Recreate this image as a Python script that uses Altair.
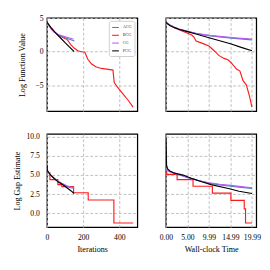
import altair as alt
import pandas as pd

methods = ["ACG", "BCG", "CG", "PCG"]
colors = ["#4a7fc1", "#ff1a1a", "#b45cf0", "#000000"]

# ---- Top-left: iterations vs log function value ----
tl_acg_x = [0, 10, 25, 40, 60, 80, 100, 120, 140, 152]
tl_acg_y = [4.4, 3.95, 3.35, 2.95, 2.55, 2.3, 2.1, 1.9, 1.72, 1.6]
tl_cg_x = [0, 10, 25, 40, 60, 80, 100, 120, 140, 148]
tl_cg_y = [4.4, 3.95, 3.35, 2.95, 2.6, 2.4, 2.25, 2.1, 1.95, 1.9]
tl_pcg_x = [0, 10, 25, 50, 75, 100, 125, 150]
tl_pcg_y = [4.4, 4.05, 3.5, 2.75, 2.05, 1.35, 0.7, 0.0]
tl_bcg_x = [0, 10, 20, 28, 35, 50, 70, 90, 110, 118, 130, 150, 170, 190, 208, 213,
            225, 245, 270, 300, 340, 365, 368, 372, 390, 420, 450, 476]
tl_bcg_y = [4.4, 3.95, 3.6, 3.5, 3.2, 2.75, 2.4, 2.1, 1.85, 1.6, 1.1, 0.55, 0.15, 0.0, -0.05, -0.3,
            -1.1, -1.8, -2.25, -2.5, -2.65, -2.75, -3.6, -4.6, -5.3, -6.3, -7.3, -8.3]

# ---- Top-right: wall-clock time vs log function value ----
tr_acg_x = [0, 1, 2, 3, 5, 7, 10, 13, 16, 19.99]
tr_acg_y = [4.4, 3.95, 3.65, 3.4, 3.05, 2.72, 2.4, 2.18, 2.0, 1.78]
tr_cg_x = [0, 1, 2, 3, 5, 7, 10, 13, 16, 19.99]
tr_cg_y = [4.4, 3.95, 3.65, 3.4, 3.05, 2.75, 2.45, 2.25, 2.08, 1.88]
tr_pcg_x = [0, 0.5, 1, 2, 3, 5, 7, 10, 12.5, 15, 17.5, 19.99]
tr_pcg_y = [4.4, 4.1, 3.9, 3.6, 3.35, 3.0, 2.65, 2.1, 1.65, 1.2, 0.65, 0.15]
tr_bcg_x = [0, 1, 2, 3.3, 4.5, 6, 6.5, 7, 8.5, 10, 11.2, 12.3, 13.5, 14.5, 15.3, 16.4,
            17.2, 17.9, 18.7, 19.4, 19.99]
tr_bcg_y = [4.4, 3.95, 3.6, 3.2, 2.9, 2.5, 2.2, 1.6, 1.25, 0.85, 0.15, -0.55, -1.0, -1.25, -1.75, -2.6,
            -2.9, -4.3, -5.0, -6.6, -8.3]

# ---- Bottom-left: iterations vs log gap estimate ----
bl_acg_x = [0, 10, 25, 45, 65, 85, 110, 130, 150]
bl_acg_y = [5.7, 5.3, 4.9, 4.45, 4.1, 3.8, 3.5, 3.35, 3.3]
bl_cg_x = [0, 10, 25, 45, 65, 85, 110, 130, 148]
bl_cg_y = [5.7, 5.3, 4.9, 4.5, 4.15, 3.9, 3.6, 3.45, 3.4]
bl_pcg_x = [0, 2, 10, 20, 40, 65, 90, 110, 130, 150]
bl_pcg_y = [6.3, 5.6, 5.3, 5.0, 4.55, 4.05, 3.7, 3.35, 3.0, 2.6]
bl_bcg_x = [0, 16, 60, 82, 147, 228, 370, 477]
bl_bcg_y = [5.3, 4.4, 3.75, 3.5, 2.7, 1.75, -1.25, -1.25]

# ---- Bottom-right: wall-clock time vs log gap estimate ----
br_acg_x = [0, 1, 2.5, 5, 7.5, 10, 12.5, 15, 17.5, 19.99]
br_acg_y = [5.7, 5.45, 5.15, 4.7, 4.3, 3.95, 3.72, 3.55, 3.4, 3.25]
br_cg_x = [0, 1, 2.5, 5, 7.5, 10, 12.5, 15, 17.5, 19.99]
br_cg_y = [5.7, 5.45, 5.15, 4.7, 4.3, 4.0, 3.8, 3.65, 3.5, 3.35]
br_pcg_x = [0, 0.15, 0.4, 1, 2, 4, 6.3, 8.5, 10.5, 14.5, 17, 19.99]
br_pcg_y = [9.75, 6.3, 5.8, 5.5, 5.25, 5.0, 4.5, 4.1, 3.75, 3.25, 2.9, 2.6]
br_bcg_x = [0, 0.2, 2.6, 6.3, 10.8, 15.1, 18.2, 18.5, 19.99]
br_bcg_y = [5.4, 5.1, 4.4, 3.55, 2.65, 1.7, 0.6, -1.25, -1.25]

time_ticks = [0, 5.0, 9.99, 14.99, 19.99]
iter_ticks = [0, 200, 400]
fv_ticks = [-5, 0, 5]
gap_ticks = [0, 2.5, 5, 7.5, 10]

FONT = "Liberation Serif"


def make_df(series):
    rows = []
    for name, xs, ys in series:
        for i, (x, y) in enumerate(zip(xs, ys)):
            rows.append({"method": name, "x": x, "y": y, "i": i})
    return pd.DataFrame(rows)


def panel(series, step_bcg, xdom, ydom, xaxis, yaxis, legend):
    df = make_df(series)
    color = alt.Color("method:N", scale=alt.Scale(domain=methods, range=colors), legend=legend)
    x = alt.X("x:Q", scale=alt.Scale(domain=xdom, nice=False, zero=False), axis=xaxis)
    y = alt.Y("y:Q", scale=alt.Scale(domain=ydom, nice=False, zero=False), axis=yaxis)
    base = alt.Chart(df)
    bcg = base.transform_filter(alt.datum.method == "BCG").mark_line(
        strokeWidth=1.2, clip=True, interpolate="step-after" if step_bcg else "linear"
    ).encode(x=x, y=y, color=color, order="i:Q")
    others = base.transform_filter(alt.datum.method != "BCG").mark_line(
        strokeWidth=1.2, clip=True
    ).encode(x=x, y=y, color=color, order="i:Q")
    return alt.layer(bcg, others).properties(width=95, height=98)


xd_it = [0, 500]
xd_t = [0, 21]
yd_fv = [-8.9, 5.05]
yd_gap = [-1.8, 10.35]

legend = alt.Legend(
    title=None, orient="top-right", offset=3, labelFont=FONT, labelFontSize=4.5,
    symbolType="stroke", symbolSize=50, symbolStrokeWidth=1.1, rowPadding=1.2,
    padding=2.5, strokeColor="#cccccc", fillColor="white", cornerRadius=2,
    labelColor="#333333", labelOffset=3,
)

tl = panel(
    [("ACG", tl_acg_x, tl_acg_y), ("CG", tl_cg_x, tl_cg_y), ("PCG", tl_pcg_x, tl_pcg_y),
     ("BCG", tl_bcg_x, tl_bcg_y)],
    False, xd_it, yd_fv,
    alt.Axis(values=iter_ticks, labels=False, title=None),
    alt.Axis(values=fv_ticks, format="d", title="Log Function Value", labelPadding=4, titlePadding=9),
    legend,
)
tr = panel(
    [("ACG", tr_acg_x, tr_acg_y), ("CG", tr_cg_x, tr_cg_y), ("PCG", tr_pcg_x, tr_pcg_y),
     ("BCG", tr_bcg_x, tr_bcg_y)],
    False, xd_t, yd_fv,
    alt.Axis(values=time_ticks, labels=False, title=None),
    alt.Axis(values=fv_ticks, labels=False, title=None),
    None,
)
bl = panel(
    [("ACG", bl_acg_x, bl_acg_y), ("CG", bl_cg_x, bl_cg_y), ("PCG", bl_pcg_x, bl_pcg_y),
     ("BCG", bl_bcg_x, bl_bcg_y)],
    True, xd_it, yd_gap,
    alt.Axis(values=iter_ticks, format="d", title="Iterations", labelPadding=7, titlePadding=4),
    alt.Axis(values=gap_ticks, format=".1f", title="Log Gap Estimate", labelPadding=8, titlePadding=5),
    None,
)
br = panel(
    [("ACG", br_acg_x, br_acg_y), ("CG", br_cg_x, br_cg_y), ("PCG", br_pcg_x, br_pcg_y),
     ("BCG", br_bcg_x, br_bcg_y)],
    True, xd_t, yd_gap,
    alt.Axis(values=time_ticks, format=".2f", title="Wall-clock Time", labelPadding=7, titlePadding=4),
    alt.Axis(values=gap_ticks, labels=False, title=None),
    None,
)

chart = alt.concat(tl, tr, bl, br, columns=2, spacing=21).properties(
    align="each", padding={"left": 4, "top": -1, "right": 0, "bottom": 0}
).resolve_scale(color="independent").resolve_legend(color="independent").configure_axis(
    labelFont=FONT, titleFont=FONT, labelFontSize=8, titleFontSize=8.5,
    labelColor="black", titleColor="black", titleFontWeight="normal",
    gridColor="#b5b5b5", gridDash=[3, 2], gridWidth=0.9, ticks=False, domain=False,
    labelFlush=False, labelOverlap=False,
).configure_view(stroke="black", strokeWidth=1.3)

chart.save("out.html", embed_options={"renderer": "svg", "actions": False})
